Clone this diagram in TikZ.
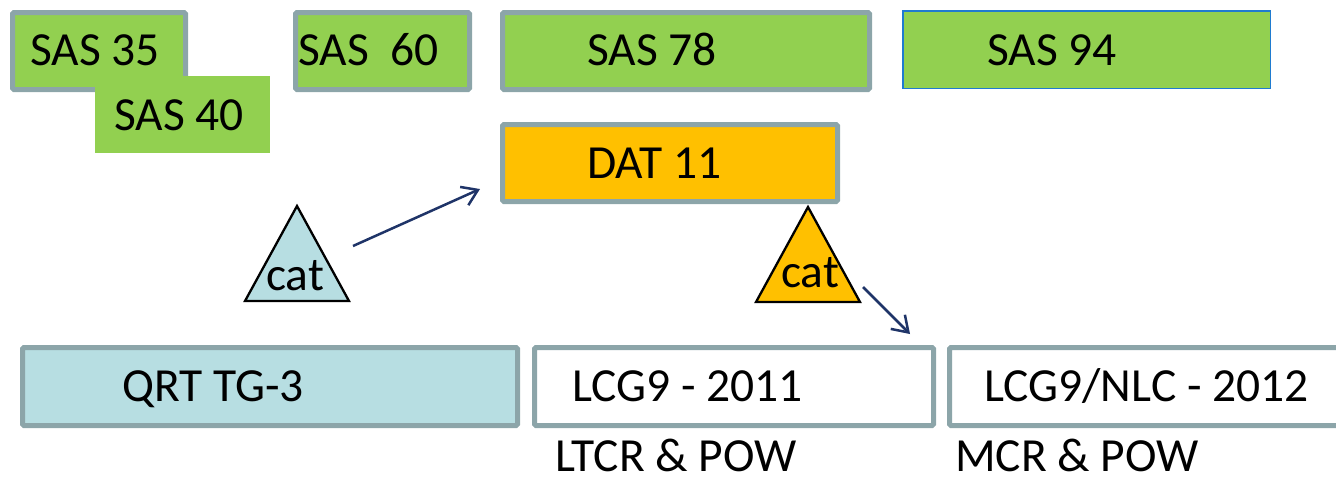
\documentclass[tikz,border=0pt]{standalone}
\usepackage{fontspec}
\setmainfont{Carlito}
\usepackage{tikz}
\usetikzlibrary{shapes.geometric,arrows.meta}

\definecolor{sasgreen}{HTML}{92D050}
\definecolor{datorange}{HTML}{FFC000}
\definecolor{qrtblue}{HTML}{B7DEE2}
\definecolor{edgegray}{HTML}{8CA5A9}
\definecolor{edgeblue}{HTML}{1F7BD0}
\definecolor{arrownavy}{HTML}{1F3468}

\tikzset{
  framebox/.style={draw=edgegray, line width=5pt, rounded corners=1.5pt, inner sep=0pt, minimum height=77pt},
  boxtext/.style={font=\fontsize{47.5}{55}\selectfont, inner sep=0pt, anchor=base west},
  cattri/.style={isosceles triangle, isosceles triangle stretches, shape border rotate=90,
    draw=black, line width=2.3pt, inner sep=0pt, minimum width=104pt, minimum height=95pt, anchor=apex},
  navyarrow/.style={draw=arrownavy, line width=2.5pt, -{Straight Barb[length=15pt,width=20pt]}}
}

\begin{document}
\begin{tikzpicture}[x=1pt,y=-1pt]
      \clip (0,0) rectangle (1336,483);
      % top row
      \node[framebox, fill=sasgreen, minimum width=173pt] (sas35) at (99,51) {};
      \node[boxtext] (sas35txt) at (30,65) {SAS 35};
      \node[fill=sasgreen, inner sep=0pt, minimum width=175pt, minimum height=77pt] (sas40) at (182.5,114.5) {};
      \node[boxtext] (sas40txt) at (114,130) {SAS 40};
      \node[framebox, fill=sasgreen, minimum width=174pt] (sas60) at (382.5,51) {};
      \node[boxtext] (sas60txt) at (298,65) {SAS\ \ 60};
      \node[framebox, fill=sasgreen, minimum width=367pt] (sas78) at (686,51) {};
      \node[boxtext] (sas78txt) at (587,65) {SAS 78};
      \node[framebox, draw=edgeblue, line width=1.5pt, rounded corners=0pt, fill=sasgreen,
        minimum width=367.5pt, minimum height=77.5pt] (sas94) at (1086.5,49.5) {};
      \node[boxtext] (sas94txt) at (987,65) {SAS 94};
      \node[framebox, fill=datorange, minimum width=335pt] (dat11) at (670,163) {};
      \node[boxtext] (dat11txt) at (587,178) {DAT 11};
      % cats
      \node[cattri, fill=qrtblue] (cat1) at (297,203) {};
      \node[boxtext, anchor=base] (cat1txt) at (295,290) {cat};
      \node[cattri, fill=datorange] (cat2) at (808,204) {};
      \node[boxtext, anchor=base] (cat2txt) at (810,287) {cat};
      \coordinate (a1s) at (353,246);
      \coordinate (a1e) at (480,189);
      \coordinate (a2s) at (863,287);
      \coordinate (a2e) at (910,334);
      \draw[navyarrow] (a1s) -- (a1e);
      \draw[navyarrow] (a2s) -- (a2e);
      % bottom row
      \node[framebox, fill=qrtblue, minimum width=495pt, minimum height=78pt] (qrt) at (270,386.5) {};
      \node[boxtext] (qrttxt) at (122,401) {QRT TG-3};
      \node[framebox, fill=white, minimum width=399pt, minimum height=78pt] (lcg11) at (734,386.5) {};
      \node[boxtext] (lcg11txt) at (572,401) {LCG9 - 2011};
      \node[framebox, fill=white, minimum width=399pt, minimum height=78pt] (lcg12) at (1149,386.5) {};
      \node[boxtext] (lcg12txt) at (984,401) {LCG9/NLC - 2012};
      \node[boxtext] (ltcr) at (555,471) {LTCR \& POW};
      \node[boxtext] (mcr) at (955,471) {MCR \& POW};
  \end{tikzpicture}
\end{document}
